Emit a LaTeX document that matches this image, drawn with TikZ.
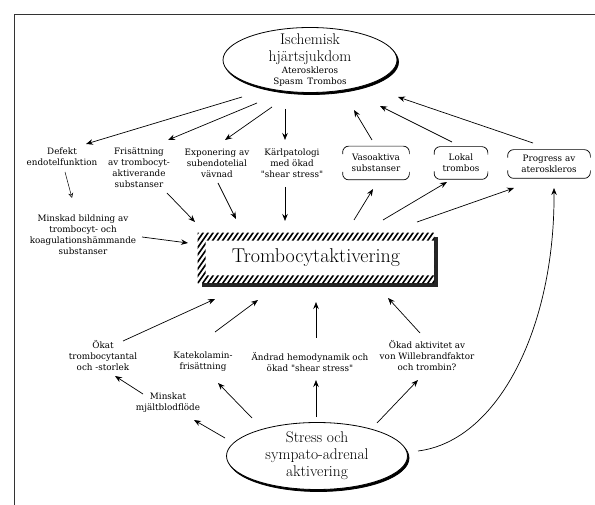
\documentclass[tikz,border=0pt]{standalone}
\usepackage{fontspec}
\usepackage{tikz}
\usetikzlibrary{shapes.geometric,shadows,arrows.meta}
\newfontfamily\labelserif{DejaVu Serif}
\newcommand{\lblfont}{\labelserif\fontsize{8.8}{11}\selectfont}
\newcommand{\bigfont}{\fontsize{15.5}{17}\selectfont}
\newcommand{\titlefont}{\fontsize{20}{24}\selectfont}
\newcommand{\bracketbox}[1]{%
  \draw[rounded corners=6pt] ([yshift=-8pt]#1.north west) -- (#1.north west) -- (#1.north east) -- ([yshift=-8pt]#1.north east);
  \draw[rounded corners=6pt] ([yshift=8pt]#1.south west) -- (#1.south west) -- (#1.south east) -- ([yshift=8pt]#1.south east);}

\begin{document}
\begin{tikzpicture}[x=1pt, y=-1pt, line width=0.7pt,
    lbl/.style = {font=\lblfont, align=center, inner sep=1pt},
    tag/.style = {font=\lblfont, align=center, inner sep=0pt},
    bubble/.style = {draw, ellipse, font=\bigfont, align=center, fill=white, inner xsep=0pt, inner ysep=-10pt, line width=0.8pt,
      copy shadow={shadow xshift=1.5pt, shadow yshift=-2pt, fill=black, draw=black}},
    arr/.style = {-{Stealth[length=7pt, width=5.5pt]}}]
  \useasboundingbox (0,0) rectangle (595,505);
  \draw[line width=1pt, black!80] (14,505) -- (14,15) -- (595,15);

  \node[bubble, minimum width=174pt, minimum height=65pt] (ihd) at (310,60) {Ischemisk\\hjärtsjukdom\\[-5pt]{\lblfont Ateroskleros}\\[-6pt]{\lblfont Spasm\enspace Trombos}};
  \node[lbl] (defekt) at (62,157) {Defekt\\endotelfunktion};
  \node[lbl] (fris) at (139,168) {Frisättning\\av trombocyt-\\aktiverande\\substanser};
  \node[lbl] (expo) at (217,163) {Exponering av\\subendotelial\\vävnad};
  \node[lbl] (karl) at (292,163) {Kärlpatologi\\med ökad\\"shear stress"};
  \node[tag, minimum width=66pt, minimum height=33pt] (vaso) at (376,163) {Vasoaktiva\\substanser};
  \node[tag, minimum width=53pt, minimum height=32pt] (lokal) at (461,163) {Lokal\\trombos};
  \node[tag, minimum width=82pt, minimum height=28pt] (prog) at (549,164) {Progress av\\ateroskleros};
  \bracketbox{vaso}
  \bracketbox{lokal}
  \bracketbox{prog}
  \node[lbl] (minskad) at (83,235) {Minskad bildning av\\trombocyt- och\\koagulationshämmande\\substanser};

  \node[font=\titlefont, minimum width=236pt, minimum height=50pt, inner sep=0pt] (act) at (316,258) {Trombocytaktivering};
  \fill[black!85] ([yshift=-4pt]act.north east) rectangle ([xshift=4pt,yshift=-4pt]act.south east);
  \fill[black!85] ([xshift=4pt]act.south west) rectangle ([xshift=4pt,yshift=-4pt]act.south east);
  \begin{scope}[even odd rule]
    \clip (act.south west) rectangle (act.north east)
      ([xshift=8pt,yshift=8pt]act.south west) rectangle ([yshift=-8pt]act.north east);
    \foreach \d in {-40,-35,...,240}
      \draw[line width=1.6pt] ([xshift=\d pt]act.south west) -- ++(55:90pt);
  \end{scope}

  \node[lbl] (okat) at (103,356) {Ökat\\trombocytantal\\och -storlek};
  \node[lbl] (katek) at (203,362) {Katekolamin-\\frisättning};
  \node[lbl] (andrad) at (310,362) {Ändrad hemodynamik och\\ökad "shear stress"};
  \node[lbl] (okad) at (427,356) {Ökad aktivitet av\\von Willebrandfaktor\\och trombin?};
  \node[lbl] (minskat) at (168,403) {Minskat\\mjältblodflöde};
  \node[bubble, minimum width=181pt, minimum height=67pt, inner ysep=-4pt] (stress) at (317,456) {Stress och\\sympato-adrenal\\aktivering};

  \draw[arr] ([shift={(-68,37)}]ihd.center) -- ([shift={(24,-13)}]defekt.center);
  \draw[arr] ([shift={(-53,43)}]ihd.center) -- ([shift={(29,-28)}]fris.center);
  \draw[arr] ([shift={(-38,47)}]ihd.center) -- ([shift={(8,-23)}]expo.center);
  \draw[arr] ([shift={(-25,49)}]ihd.center) -- ([shift={(-7,-23)}]karl.center);
  \draw[arr] ([shift={(-4,-23)}]vaso.center) -- ([shift={(44,50)}]ihd.center);
  \draw[arr] ([shift={(-9,-21)}]lokal.center) -- ([shift={(70,46)}]ihd.center);
  \draw[arr] ([shift={(-16,-21)}]prog.center) -- ([shift={(88,37)}]ihd.center);
  \draw[line width=0.5pt, -{Stealth[open, length=5pt, width=5pt]}] ([shift={(3,15)}]defekt.center) -- ([shift={(-11,-37)}]minskad.center);
  \draw[arr] ([shift={(28,25)}]fris.center) -- ([shift={(-121,-36)}]act.center);
  \draw[arr] ([shift={(1,20)}]expo.center) -- ([shift={(-80,-39)}]act.center);
  \draw[arr] ([shift={(-7,24)}]karl.center) -- ([shift={(-31,-37)}]act.center);
  \draw[arr] ([shift={(59,2)}]minskad.center) -- ([shift={(-128,-15)}]act.center);
  \draw[arr] ([shift={(38,-38)}]act.center) -- ([shift={(-3,26)}]vaso.center);
  \draw[arr] ([shift={(67,-38)}]act.center) -- ([shift={(-14,19)}]lokal.center);
  \draw[arr] ([shift={(101,-36)}]act.center) -- ([shift={(-35,24)}]prog.center);
  \draw[arr] ([shift={(20,-15)}]okat.center) -- ([shift={(-101,41)}]act.center);
  \draw[arr] ([shift={(12,-30)}]katek.center) -- ([shift={(-58,42)}]act.center);
  \draw[arr] ([shift={(6,-24)}]andrad.center) -- ([shift={(0,44)}]act.center);
  \draw[arr] ([shift={(-7,-23)}]okad.center) -- ([shift={(72,40)}]act.center);
  \draw[arr] ([shift={(-25,-9)}]minskat.center) -- ([shift={(12,20)}]okat.center);
  \draw[arr] ([shift={(-92,-18)}]stress.center) -- ([shift={(26,17)}]minskat.center);
  \draw[arr] ([shift={(-65,-38)}]stress.center) -- ([shift={(15,21)}]katek.center);
  \draw[arr] ([shift={(-1,-39)}]stress.center) -- ([shift={(6,18)}]andrad.center);
  \draw[arr] ([shift={(60,-33)}]stress.center) -- ([shift={(-9,24)}]okad.center);
  \draw[arr] ([shift={(101,-5)}]stress.center) .. controls +(80,-10) and +(1,140) .. ([shift={(5,24)}]prog.center);
\end{tikzpicture}
\end{document}
